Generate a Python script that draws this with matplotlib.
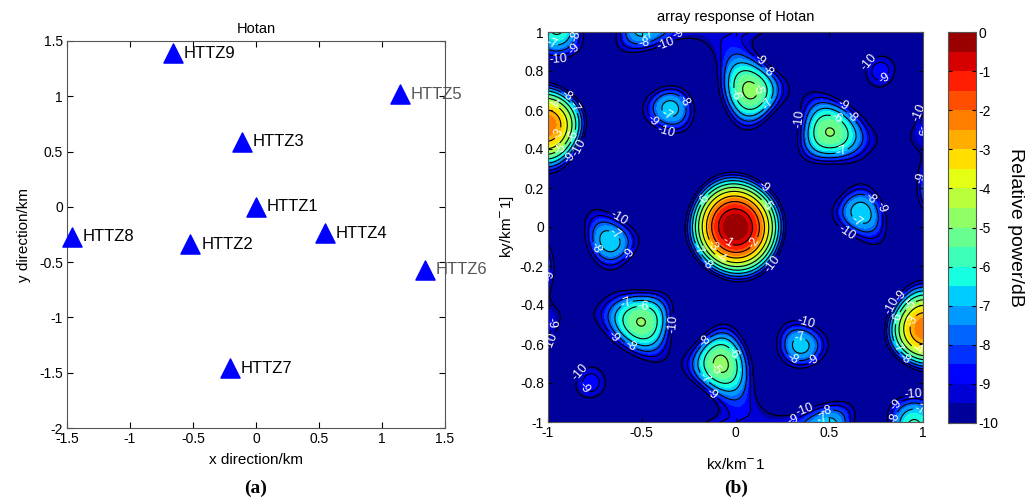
import numpy as np
import matplotlib
matplotlib.use("Agg")
import matplotlib.pyplot as plt

plt.rcParams['font.family'] = ['Liberation Sans', 'DejaVu Sans']

# ---- data: station positions (km) ----
stations = ['HTTZ1', 'HTTZ2', 'HTTZ3', 'HTTZ4', 'HTTZ5', 'HTTZ6', 'HTTZ7', 'HTTZ8', 'HTTZ9']
x_km = [0.00, -0.52, -0.11, 0.55, 1.14, 1.34, -0.21, -1.46, -0.66]
y_km = [0.00, -0.34, 0.59, -0.24, 1.02, -0.57, -1.46, -0.27, 1.39]

xticks_a = [-1.5, -1, -0.5, 0, 0.5, 1, 1.5]
xticklabels_a = ['-1.5', '-1', '-0.5', '0', '0.5', '1', '1.5']
yticks_a = [-2, -1.5, -1, -0.5, 0, 0.5, 1, 1.5]
yticklabels_a = ['-2', '-1.5', '-1', '-0.5', '0', '0.5', '1', '1.5']
kticks = [-1, -0.5, 0, 0.5, 1]
kticklabels = ['-1', '-0.5', '0', '0.5', '1']
kyticks = [-1, -0.8, -0.6, -0.4, -0.2, 0, 0.2, 0.4, 0.6, 0.8, 1]
kyticklabels = ['-1', '-0.8', '-0.6', '-0.4', '-0.2', '0', '0.2', '0.4', '0.6', '0.8', '1']
cb_ticks = [0, -1, -2, -3, -4, -5, -6, -7, -8, -9, -10]
db_floor = -10

fig = plt.figure(figsize=(10.28, 4.99), dpi=100)

# ---- (a) station layout ----
axa = fig.add_axes([67/1028, (499-428)/499, 378/1028, 387/499])
axa.scatter(x_km, y_km, marker='^', s=190, color='#0000ff', zorder=3, clip_on=False)
for name, xx, yy in zip(stations, x_km, y_km):
    col = '#555555' if name in ('HTTZ5', 'HTTZ6') else 'black'
    axa.text(xx + 0.085, yy, name, fontsize=12, va='center', ha='left', color=col)
axa.set_xlim(-1.5, 1.5)
axa.set_ylim(-2, 1.5)
axa.set_xticks(xticks_a)
axa.set_xticklabels(xticklabels_a)
axa.set_yticks(yticks_a)
axa.set_yticklabels(yticklabels_a)
axa.tick_params(direction='in', top=True, right=True, labelsize=10, length=4, pad=3)
for s in axa.spines.values():
    s.set_color('#555555')
axa.set_title('Hotan', fontsize=10.5, pad=6)
axa.set_xlabel('x direction/km', fontsize=11, labelpad=5)
axa.set_ylabel('y direction/km', fontsize=11, labelpad=6)
fig.text(256/1028, 1 - 488/499, '(a)', fontsize=14, fontweight='bold', family='Liberation Serif',
         ha='center', va='center')

# ---- (b) array response of the stations above ----
k = np.linspace(-1, 1, 301)
KX, KY = np.meshgrid(k, k)
xs = np.array(x_km)
ys = np.array(y_km)
phase = 2 * np.pi * (KX[..., None] * xs + KY[..., None] * ys)
S = np.exp(1j * phase).sum(axis=-1)
P = np.abs(S) ** 2 / len(xs) ** 2
dB = 10 * np.log10(np.maximum(P, 1e-12))
dBc = np.clip(dB, db_floor, 0)

axb = fig.add_axes([548/1028, (499-422)/499, 375/1028, 390/499])
fill_levels = np.linspace(-10, 0, 21)
cf = axb.contourf(KX, KY, dBc, levels=fill_levels, cmap='jet', vmin=-10, vmax=0)
cl = axb.contour(KX, KY, dB, levels=np.arange(-10, 0, 1), colors='black',
                 linewidths=0.8, linestyles='solid')
axb.clabel(cl, fmt='%d', colors='white', fontsize=9, inline=True, inline_spacing=1)
axb.set_xlim(-1, 1)
axb.set_ylim(-1, 1)
axb.set_xticks(kticks)
axb.set_xticklabels(kticklabels)
axb.set_yticks(kyticks)
axb.set_yticklabels(kyticklabels)
axb.tick_params(direction='in', top=True, right=True, labelsize=10, length=3, pad=3)
for s in axb.spines.values():
    s.set_color('#555555')
axb.set_title('array response of Hotan', fontsize=10.5, pad=8)
axb.set_xlabel(r'kx/km$^{\mathsf{-}}$1', fontsize=11, labelpad=12)
axb.set_ylabel(r'ky/km$^{\mathsf{-}}$1]', fontsize=11, labelpad=3)
fig.text(736/1028, 1 - 488/499, '(b)', fontsize=14, fontweight='bold', family='Liberation Serif',
         ha='center', va='center')

cax = fig.add_axes([948/1028, (499-423)/499, 28/1028, 391/499])
cb = fig.colorbar(cf, cax=cax, ticks=cb_ticks)
cb.ax.set_yticklabels([str(t) for t in cb_ticks])
cb.ax.tick_params(labelsize=10, direction='in', length=3, pad=2, left=True)
cb.outline.set_edgecolor('#555555')
cb.set_label('Relative power/dB', rotation=270, fontsize=14, labelpad=18)

fig.savefig('out.png', dpi=100)
